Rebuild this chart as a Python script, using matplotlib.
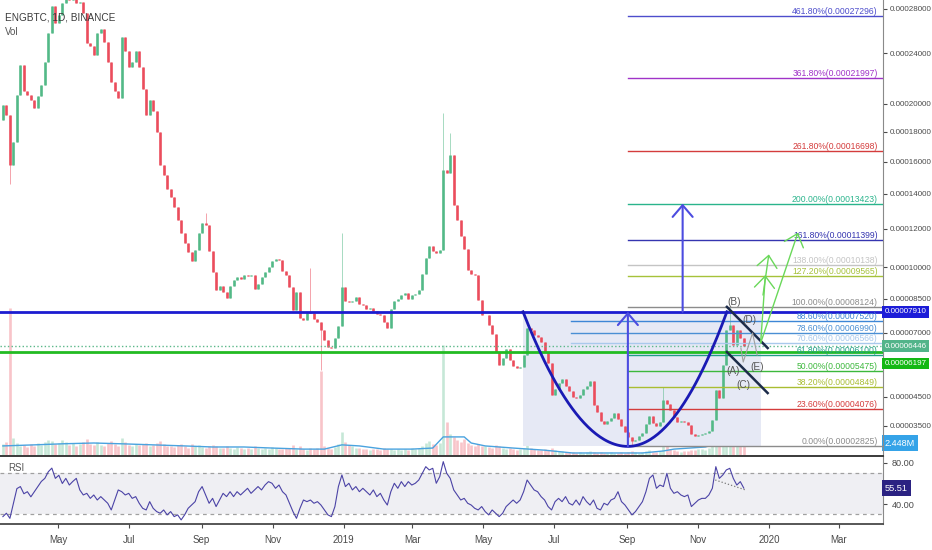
import numpy as np
import matplotlib
matplotlib.use("Agg")
import matplotlib.pyplot as plt
import matplotlib.dates as mdates
from matplotlib.ticker import FuncFormatter, NullLocator
from matplotlib.transforms import blended_transform_factory as blend

plt.rcParams['font.family'] = ['Liberation Sans', 'DejaVu Sans']
FS = 6.0

# ---------------- data (prices in 1e-5 BTC) ----------------
start_date = np.datetime64('2018-03-13')
candle_days = 3
first_open_e5 = 18.8

closes_e5 = [
    19.9, 19.15, 15.8, 17.3, 20.65, 23.0, 21.0, 20.7, 20.3, 19.7,
    20.6, 21.4, 23.25, 25.8, 28.25, 26.7, 27.4, 28.5, 29.7, 28.8,
    29.3, 28.5, 28.6, 27.6, 24.9, 24.6, 23.85, 25.8, 26.1, 25.0,
    23.25, 21.65, 21.0, 20.45, 25.45, 24.2, 22.9, 23.25, 24.2, 22.9,
    21.15, 19.2, 20.3, 19.5, 17.95, 15.8, 15.15, 14.3, 13.8, 13.25,
    12.5, 11.75, 11.25, 10.75, 10.3, 10.9, 11.75, 12.3, 12.2, 10.85,
    9.77, 8.9, 9.09, 8.81, 8.53, 9.09, 9.38, 9.53, 9.43, 9.62,
    9.58, 9.62, 8.95, 9.19, 9.53, 9.77, 10.0, 10.3, 10.4, 10.35,
    9.82, 9.62, 9.04, 7.99, 8.81, 7.64, 7.55, 7.9, 7.86, 7.6,
    7.46, 7.12, 6.7, 6.41, 6.37, 6.78, 7.29, 9.04, 8.4, 8.35,
    8.4, 8.58, 8.26, 8.22, 8.04, 8.08, 7.95, 7.81, 7.77, 7.46,
    7.2, 8.04, 8.4, 8.49, 8.67, 8.76, 8.49, 8.67, 8.72, 8.9,
    9.67, 10.45, 11.1, 10.8, 10.7, 10.9, 15.45, 15.25, 16.45, 13.35,
    12.5, 11.6, 10.95, 9.87, 9.67, 9.62, 8.44, 7.77, 7.77, 7.33,
    6.95, 6.21, 5.7, 5.97, 6.33, 5.89, 5.66, 5.58, 5.62, 6.09,
    7.2, 7.12, 6.91, 6.83, 6.62, 6.21, 5.77, 4.57, 4.79, 5.01,
    5.16, 4.9, 4.71, 4.5, 4.46, 4.57, 4.79, 4.9, 5.08, 4.21,
    3.96, 3.66, 3.55, 3.66, 3.76, 3.93, 3.72, 3.49, 3.29, 3.13,
    3.0, 3.03, 3.16, 3.25, 3.55, 3.83, 3.59, 3.49, 3.62, 4.39,
    4.25, 4.03, 3.79, 3.62, 3.66, 3.62, 3.52, 3.22, 3.16, 3.19,
    3.22, 3.25, 3.32, 3.69, 4.75, 4.46, 5.7, 7.12, 7.33, 6.5,
    7.12, 6.78, 6.45]

# notable wicks (index -> price, 1e-5)
wick_highs = {58: 12.9, 88: 9.96, 97: 11.8, 126: 19.3, 128: 17.9, 189: 4.86, 208: 8.124}
wick_lows = {2: 14.6, 91: 5.5, 180: 2.825}

volumes_m = [
    2.2, 2.6, 28.0, 3.4, 2.5, 1.8, 2.1, 1.7, 2.3, 1.9, 2.4, 2.0, 2.6, 3.1, 2.8, 2.2, 2.5, 3.0, 2.7, 2.1,
    2.4, 1.9, 2.2, 2.6, 3.2, 2.3, 2.0, 2.7, 2.1, 1.8, 2.4, 2.9, 2.2, 1.9, 3.4, 2.6, 2.1, 1.9, 2.3, 2.0,
    2.2, 2.5, 1.9, 2.1, 2.4, 2.8, 2.2, 1.8, 1.9, 1.7, 2.0, 2.3, 1.8, 1.6, 2.2, 1.9, 2.1, 1.7, 1.5, 1.9,
    2.1, 1.8, 1.6, 1.5, 1.9, 1.6, 1.4, 1.7, 1.5, 1.3, 1.6, 1.4, 1.8, 1.5, 1.3, 1.6, 1.4, 1.7, 1.5, 1.3,
    1.4, 1.6, 1.5, 2.1, 1.4, 1.8, 1.3, 1.2, 1.5, 1.3, 1.6, 16.0, 1.8, 1.5, 1.4, 1.7, 2.2, 4.5, 2.6, 2.0,
    1.8, 1.6, 1.5, 1.4, 1.3, 1.2, 1.4, 1.3, 1.2, 1.5, 1.4, 1.3, 1.2, 1.4, 1.1, 1.3, 1.2, 1.5, 1.4, 1.6,
    1.9, 2.4, 2.8, 2.2, 2.0, 2.5, 21.0, 6.5, 4.2, 3.5, 3.0, 2.7, 3.2, 2.4, 2.1, 1.9, 2.2, 1.8, 1.9, 1.7,
    1.6, 2.0, 1.8, 1.5, 1.4, 1.6, 1.3, 1.2, 1.4, 1.5, 2.4, 1.6, 1.3, 1.2, 1.1, 1.3, 1.2, 1.6, 1.1, 1.0,
    0.9, 0.8, 0.7, 0.8, 0.6, 0.7, 0.6, 0.8, 0.9, 0.7, 0.6, 0.7, 0.5, 0.6, 0.7, 0.5, 0.6, 0.7, 0.6, 0.8,
    0.9, 0.7, 0.6, 0.8, 0.9, 1.1, 0.8, 0.7, 0.9, 17.0, 2.2, 1.4, 1.1, 0.9, 0.8, 1.0, 0.9, 1.2, 1.1, 1.3,
    1.4, 1.2, 1.5, 1.8, 5.5, 3.8, 12.0, 16.0, 9.0, 4.5, 3.2, 2.8, 2.448]

vol_ma_idx = [0, 9, 17, 26, 34, 43, 52, 60, 69, 77, 86, 92, 97, 102, 109, 117, 123, 126, 132, 134,
              138, 146, 155, 163, 172, 183, 189, 192, 201, 205, 208, 211, 212]
vol_ma_vals = [1.9, 2.1, 2.3, 2.45, 2.3, 2.1, 1.9, 1.7, 1.7, 1.5, 1.3, 1.3, 2.1, 1.9, 1.3, 1.3, 1.5, 3.6, 3.6, 2.45,
               1.9, 1.5, 1.1, 0.57, 0.57, 0.57, 0.95, 1.3, 1.7, 2.45, 2.8, 2.8, 1.9]

rsi_vals = [
    27.7, 31, 26, 40.7, 55, 57, 50, 52, 47, 52,
    57, 62, 65, 71.5, 75, 65, 68, 60, 65, 58.5,
    62, 65, 53.7, 48.8, 50.4, 45.5, 48.8, 43.9, 47.2, 43.9,
    40.7, 34.2, 43.9, 53.7, 52, 48.8, 50.4, 45.5, 47.2, 40.7,
    35.8, 34.2, 42.3, 35.8, 32.6, 31, 34.2, 29.4, 32.6, 27.7,
    29.4, 24.5, 29.4, 35.8, 39, 42.3, 52, 57, 48.8, 40.7,
    45.5, 37.5, 43.9, 50.4, 47.2, 52, 47.2, 52, 48.8, 52,
    55.3, 50.4, 53.7, 57, 53.7, 58.5, 61.8, 60.2, 55.3, 58.5,
    52, 48.8, 40.7, 32.6, 26, 35.8, 43.9, 42.3, 43.9, 40.7,
    42.3, 39, 34.2, 29.4, 27.7, 37.5, 57, 68.3, 57, 60.2,
    53.7, 57, 52, 55.3, 52, 48.8, 53.7, 47.2, 50.4, 43.9,
    39, 52, 60.2, 55.3, 61.8, 57, 61.8, 58.5, 60.2, 63.4,
    69.9, 76.4, 73.2, 74.8, 60.2, 66.7, 81.3, 69.9, 65, 53.7,
    48.8, 43.9, 45.5, 40.7, 39, 35.8, 34.2, 37.5, 32.6, 29.4,
    34.2, 31, 27.7, 31, 37.5, 40.7, 43.9, 40.7, 43.9, 52,
    63.4, 58.5, 53.7, 52, 47.2, 43.9, 37.5, 34.2, 42.3, 45.5,
    42.3, 47.2, 40.7, 39, 43.9, 39, 47.2, 42.3, 39, 43.9,
    35.8, 34.2, 40.7, 39, 43.9, 45.5, 52, 42.3, 39, 34.2,
    29.4, 32.6, 37.5, 42.3, 52, 65, 68.3, 55.3, 58.5, 57,
    69.9, 55.3, 50.4, 52, 48.8, 47.2, 48.8, 37.5, 40.7, 43.9,
    45.5, 45.5, 48.8, 55.3, 76.4, 65, 68.3, 73.2, 74.8, 65,
    58.5, 61.8, 55.51]

# fibonacci drawing
fib_low = 2.825e-5
fib_high = 8.124e-5
fib_levels = [0, 0.236, 0.382, 0.5, 0.618, 0.706, 0.786, 0.886, 1.0, 1.272, 1.38, 1.618, 2.0, 2.618, 3.618, 4.618]
fib_colors = ['#8c8c8c', '#d43c3c', '#a9bd32', '#3cb83c', '#1f9e86', '#a9c9ec', '#4a8fd4', '#3d86d6',
              '#8c8c8c', '#a6c23a', '#c4c4c4', '#3535b0', '#2ab48c', '#d43c3c', '#a033c8', '#4d4dcc']
fib_start = '2019-09-02'
fib_start_early = '2019-07-15'   # 0.706 / 0.786 / 0.886 reach further left
early_levels = [0.706, 0.786, 0.886]

# horizontal lines / markers
blue_level = 7.91e-5
green_level = 6.197e-5
last_price = 6.446e-5
last_volume = 2.448
last_rsi = 55.51

cup_left, cup_bottom, cup_right = '2019-06-04', '2019-09-02', '2019-11-26'
box_right = '2019-12-25'

month_ticks = ['2018-05-01', '2018-07-01', '2018-09-01', '2018-11-01', '2019-01-01', '2019-03-01',
               '2019-05-01', '2019-07-01', '2019-09-01', '2019-11-01', '2020-01-01', '2020-03-01']
month_labels = ['May', 'Jul', 'Sep', 'Nov', '2019', 'Mar', 'May', 'Jul', 'Sep', 'Nov', '2020', 'Mar']
price_ticks = [28000, 24000, 20000, 18000, 16000, 14000, 12000, 10000, 8500, 7000, 4500, 3500]


def d(s):
    return mdates.date2num(np.datetime64(s))


UP, DOWN = '#53b987', '#eb4d5c'
OFF = 1e-4

n = len(closes_e5)
dates = start_date + np.arange(n) * candle_days
xs = mdates.date2num(dates) + candle_days / 2
closes = np.array(closes_e5) * 1e-5
opens = np.r_[first_open_e5, closes_e5[:-1]] * 1e-5
cols = np.where(closes >= opens, UP, DOWN)
highs = np.maximum(opens, closes)
lows = np.minimum(opens, closes)
for k, v in wick_highs.items():
    highs[k] = v * 1e-5
for k, v in wick_lows.items():
    lows[k] = v * 1e-5

fig = plt.figure(figsize=(9.32, 5.5), dpi=100)
rect_main = [0, 94 / 550, 883 / 932, 456 / 550]
ax_vol = fig.add_axes(rect_main, label='vol')
ax = fig.add_axes(rect_main, label='main', sharex=ax_vol)
ax_rsi = fig.add_axes([0, 26 / 550, 883 / 932, 68 / 550], sharex=ax_vol)

xlim = (d('2018-03-12'), d('2020-04-08'))

# ---------------- volume ----------------
ax_vol.set_ylim(0, 86)
ax_vol.vlines(xs, 0, volumes_m, colors=cols, lw=1.9, alpha=0.33)
ax_vol.plot(xs[vol_ma_idx], vol_ma_vals, color='#4aa3df', lw=1)
ax_vol.axis('off')
ax_vol.text(1.002, last_volume, '2.448M', transform=blend(ax_vol.transAxes, ax_vol.transData),
            color='white', fontsize=FS + 0.6, va='center', ha='left',
            bbox=dict(boxstyle='square,pad=0.35', fc='#35a3e8', ec='none'))

# ---------------- main price pane ----------------
ax.patch.set_visible(False)
ax.set_yscale('function', functions=(lambda p: np.log(np.asarray(p) + OFF),
                                     lambda v: np.exp(v) - OFF))
ax.set_xlim(*xlim)
ax.set_ylim(2.523e-5, 2.882e-4)

# shaded box behind the cup
ax.fill_between([d(cup_left), d(box_right)], fib_low, blue_level, color='#e6e9f5', lw=0, zorder=0)

ax.vlines(xs, lows, highs, colors=cols, lw=0.6, alpha=0.6, zorder=2)
ax.vlines(xs, np.minimum(opens, closes), np.maximum(opens, closes), colors=cols, lw=1.9, zorder=2)

# horizontal lines
ax.axhline(blue_level, color='#1c1cd0', lw=2, zorder=3)
ax.axhline(green_level, color='#22bb22', lw=2, zorder=3)
ax.axhline(last_price, color='#5cb88a', lw=1, ls=':', zorder=3)

# fib levels
tr_lab = blend(ax.transAxes, ax.transData)
for lvl, c in zip(fib_levels, fib_colors):
    price = fib_low + lvl * (fib_high - fib_low)
    x0 = d(fib_start_early) if lvl in early_levels else d(fib_start)
    ax.plot([x0, xlim[1]], [price, price], color=c, lw=1, zorder=3)
    ax.text(0.994, price, f'{lvl * 100:.2f}%({price:.8f})', transform=tr_lab, color=c,
            fontsize=FS + 0.2, ha='right', va='bottom', zorder=4)

# cup (parabola in scale space)
fl = np.log(blue_level + OFF)
fb = np.log(fib_low + OFF)
xl, xb, xr = d(cup_left), d(cup_bottom), d(cup_right)
t1 = np.linspace(xl, xb, 80)
t2 = np.linspace(xb, xr, 80)
f1 = fb + (fl - fb) * ((t1 - xb) / (xl - xb)) ** 2
f2 = fb + (fl - fb) * ((t2 - xb) / (xr - xb)) ** 2
ax.plot(np.r_[t1, t2], np.exp(np.r_[f1, f2]) - OFF, color='#1a1ab4', lw=2, zorder=4)

# blue target arrows
arrow_blue = dict(arrowstyle='->,head_length=0.7,head_width=0.6', color='#4c4ce0', lw=1.5,
                  shrinkA=0, shrinkB=0, mutation_scale=12)
ax.annotate('', xy=(d('2019-09-02'), blue_level), xytext=(d('2019-09-02'), fib_low),
            arrowprops=arrow_blue, zorder=5)
ax.annotate('', xy=(d('2019-10-19'), fib_low + 2.0 * (fib_high - fib_low)),
            xytext=(d('2019-10-19'), blue_level), arrowprops=arrow_blue, zorder=5)

# falling channel
ax.plot([d('2019-11-26'), d('2019-12-31')], [8.13e-5, 6.37e-5], color='#1c2b4a', lw=1.8, zorder=5)
ax.plot([d('2019-11-26'), d('2019-12-31')], [6.21e-5, 4.64e-5], color='#1c2b4a', lw=1.8, zorder=5)

# wave path and labels
wave_x = [d('2019-12-08'), d('2019-12-10'), d('2019-12-18'), d('2019-12-22')]
wave_y = [6.37e-5, 5.81e-5, 6.99e-5, 6.09e-5]
ax.plot(wave_x, wave_y, color='#a0a0a0', lw=0.8, zorder=5)
wave_labels = [('(B)', '2019-12-02', 8.35e-5), ('(D)', '2019-12-15', 7.55e-5), ('(A)', '2019-12-01', 5.46e-5),
               ('(C)', '2019-12-10', 4.95e-5), ('(E)', '2019-12-22', 5.6e-5)]
for lab, dt, p in wave_labels:
    ax.text(d(dt), p, lab, color='#555555', fontsize=FS + 1.2, ha='center', va='center', zorder=6)

# green projection arrows
arrow_green = dict(arrowstyle='->,head_length=0.7,head_width=0.6', color='#6ad85a', lw=1,
                   shrinkA=0, shrinkB=0, mutation_scale=12)
green_paths = [(('2019-12-25', 6.58e-5), ('2019-12-29', 9.62e-5)),
               (('2019-12-27', 8.67e-5), ('2020-01-01', 10.65e-5)),
               (('2019-12-25', 6.58e-5), ('2020-01-26', 11.8e-5))]
for (d0, p0), (d1, p1) in green_paths:
    ax.annotate('', xy=(d(d1), p1), xytext=(d(d0), p0), arrowprops=arrow_green, zorder=5)

# axis styling
ax.yaxis.tick_right()
ax.set_yticks(np.array(price_ticks) * 1e-8)
ax.yaxis.set_minor_locator(NullLocator())
ax.yaxis.set_major_formatter(FuncFormatter(lambda v, p: f'{v:.8f}'))
ax.tick_params(axis='y', labelsize=FS - 0.2, colors='#4a4a4a', length=3, pad=2)
ax.tick_params(axis='x', bottom=False, labelbottom=False)
for s in ['top', 'left', 'bottom']:
    ax.spines[s].set_visible(False)
ax.spines['right'].set_color('#8a8a8a')

tr_box = blend(ax.transAxes, ax.transData)
box_kw = dict(color='white', fontsize=FS - 0.2, va='center', ha='left', zorder=7)
ax.text(1.002, blue_level, '0.00007910', transform=tr_box,
        bbox=dict(boxstyle='square,pad=0.3', fc='#1c1cd8', ec='none'), **box_kw)
ax.text(1.002, last_price, '0.00006446', transform=tr_box,
        bbox=dict(boxstyle='square,pad=0.3', fc='#52b48a', ec='none'), **box_kw)
ax.annotate('0.00006197', xy=(1.002, green_level), xycoords=tr_box, xytext=(0, -8),
            textcoords='offset points', bbox=dict(boxstyle='square,pad=0.3', fc='#14b814', ec='none'),
            annotation_clip=False, **box_kw)

fig.text(5 / 932, 1 - 17 / 550, 'ENGBTC, 1D, BINANCE', fontsize=7.2, color='#3a3a3a', va='center')
fig.text(5 / 932, 1 - 32 / 550, 'Vol', fontsize=7, color='#555555', va='center')

# ---------------- RSI pane ----------------
ax_rsi.set_ylim(20.5, 86.8)
ax_rsi.fill_between(xlim, 30, 70, color='#efeff3', lw=0)
ax_rsi.axhline(70, color='#a0a0a0', lw=0.9, ls=(0, (3, 3)))
ax_rsi.axhline(30, color='#a0a0a0', lw=0.9, ls=(0, (3, 3)))
ax_rsi.plot(xs, rsi_vals, color='#4b43a6', lw=0.8)
ax_rsi.plot([d('2019-11-16'), d('2019-12-12')], [63.4, 53.7], color='#7a7a7a', lw=0.9, ls=':')
ax_rsi.yaxis.tick_right()
ax_rsi.set_yticks([40, 80])
ax_rsi.set_yticklabels(['40.00', '80.00'])
ax_rsi.tick_params(axis='y', labelsize=FS + 0.6, colors='#4a4a4a', length=3, pad=3)
ax_rsi.set_xticks([d(s) for s in month_ticks])
ax_rsi.set_xticklabels(month_labels)
ax_rsi.tick_params(axis='x', labelsize=7, colors='#4a4a4a', length=3, pad=5)
ax_rsi.set_xlim(*xlim)
ax_rsi.spines['left'].set_visible(False)
ax_rsi.spines['top'].set_color('#3a3a3a')
ax_rsi.spines['top'].set_linewidth(1.4)
ax_rsi.spines['bottom'].set_color('#3a3a3a')
ax_rsi.spines['bottom'].set_linewidth(1.2)
ax_rsi.spines['right'].set_color('#8a8a8a')
ax_rsi.text(1.002, last_rsi, '55.51', transform=blend(ax_rsi.transAxes, ax_rsi.transData),
            color='white', fontsize=FS + 0.6, va='center', ha='left',
            bbox=dict(boxstyle='square,pad=0.35', fc='#2b2282', ec='none'))
fig.text(8 / 932, 1 - 468 / 550, 'RSI', fontsize=7, color='#555555', va='center')

fig.savefig('out.png', dpi=100)
